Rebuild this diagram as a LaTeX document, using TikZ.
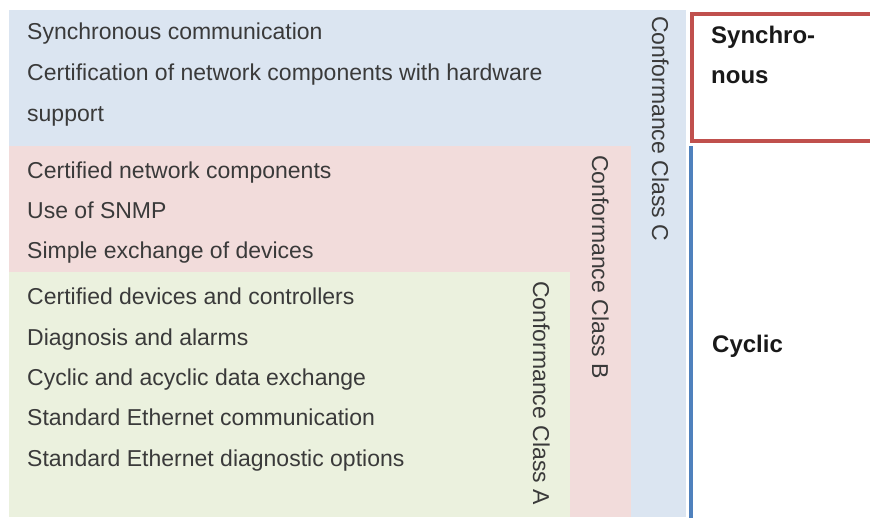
\documentclass[tikz,border=0pt]{standalone}
\usepackage{fontspec}
\setmainfont{Liberation Sans}
\usepackage{tikz}
\usepackage{xcolor}

\definecolor{classC}{HTML}{DBE5F1}
\definecolor{classB}{HTML}{F2DCDB}
\definecolor{classA}{HTML}{EBF1DE}
\definecolor{syncred}{HTML}{C0504D}
\definecolor{cycblue}{HTML}{4F81BD}
\definecolor{textgray}{HTML}{3A3A3A}

\begin{document}
\begin{tikzpicture}[x=1pt,y=-1pt,
        item/.style={anchor=base west,inner sep=0pt,text=textgray,font=\fontsize{23}{28}\selectfont},
        cls/.style={item,rotate=-90},
        mode/.style={anchor=base west,inner sep=0pt,text=black!90,font=\fontsize{24}{28}\selectfont\bfseries}]
            \clip (0,0) rectangle (870,517);
            % nested class areas
            \fill[classC] (9,10) rectangle (686,517);
            \fill[classB] (9,146) rectangle (631,517);
            \fill[classA] (9,272) rectangle (570,517);
            % communication modes on the right
            \draw[line width=4pt,syncred,fill=white] (692,14) rectangle (900,141);
            \draw[line width=4pt,cycblue] (691,146) -- (691,530);
            \node[mode] (sync1) at (711,43) {Synchro-};
            \node[mode] (sync2) at (711,83) {nous};
            \node[mode] (cyclic) at (712,352) {Cyclic};
            % class C
            \node[item] (c1) at (27,39) {Synchronous communication};
            \node[item] (c2) at (27,80) {Certification of network components with hardware};
            \node[item] (c3) at (27,121) {support};
            \node[cls] (ccc) at (652,16) {Conformance Class C};
            % class B
            \node[item] (b1) at (27,178) {Certified network components};
            \node[item] (b2) at (27,218) {Use of SNMP};
            \node[item] (b3) at (27,258) {Simple exchange of devices};
            \node[cls] (ccb) at (592,155) {Conformance Class B};
            % class A
            \node[item] (a1) at (27,304) {Certified devices and controllers};
            \node[item] (a2) at (27,345) {Diagnosis and alarms};
            \node[item] (a3) at (27,385) {Cyclic and acyclic data exchange};
            \node[item] (a4) at (27,425) {Standard Ethernet communication};
            \node[item] (a5) at (27,466) {Standard Ethernet diagnostic options};
            \node[cls] (cca) at (533,281) {Conformance Class A};
        \end{tikzpicture}
\end{document}
